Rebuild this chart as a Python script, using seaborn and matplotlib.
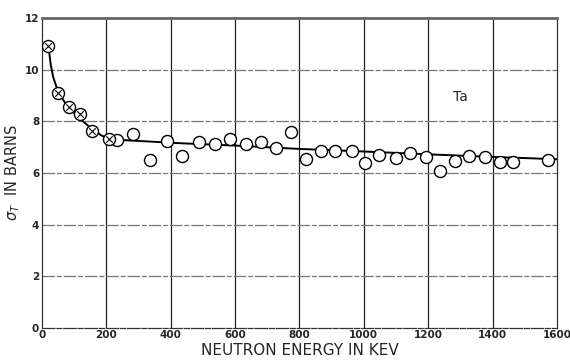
import matplotlib
matplotlib.use("Agg")
import matplotlib.pyplot as plt
import seaborn as sns
import pandas as pd

# Crossed-circle points (low energy)
cross_x = [20, 51, 85, 119, 155, 209]
cross_y = [10.93, 9.11, 8.54, 8.27, 7.64, 7.30]

# Open-circle points
open_x = [234, 284, 337, 388, 436, 489, 537, 585, 633, 680, 727, 774, 821, 867, 909,
          962, 1005, 1048, 1099, 1145, 1192, 1238, 1284, 1328, 1376, 1424, 1464, 1573]
open_y = [7.27, 7.51, 6.49, 7.25, 6.66, 7.19, 7.11, 7.30, 7.11, 7.21, 6.98, 7.60, 6.53, 6.86, 6.86,
          6.86, 6.40, 6.69, 6.57, 6.78, 6.60, 6.09, 6.46, 6.66, 6.60, 6.41, 6.43, 6.50]

# Fitted curve
curve_x = [20, 27, 35, 50, 70, 90, 120, 155, 185, 210, 240, 430, 600, 800, 1000, 1200, 1400, 1600]
curve_y = [10.93, 10.2, 9.7, 9.15, 8.75, 8.45, 8.08, 7.70, 7.45, 7.32, 7.28, 7.15, 7.06, 6.93, 6.83, 6.72, 6.62, 6.53]

x_ticks = [0, 200, 400, 600, 800, 1000, 1200, 1400, 1600]
y_ticks = [0, 2, 4, 6, 8, 10, 12]
x_tick_labels = ["0", "200", "400", "600", "800", "1000", "1200", "1400", "1600"]
y_tick_labels = ["0", "2", "4", "6", "8", "10", "12"]

sns.set_theme(style="white")
plt.rcParams['font.family'] = ['DejaVu Sans']

fig = plt.figure(figsize=(5.7, 3.62), dpi=100)
ax = fig.add_axes([0.0737, 0.0947, 0.9033, 0.8553])

# grid
for xv in x_ticks[1:-1]:
    ax.axvline(xv, color="#222222", lw=0.9, zorder=1)
for yv in y_ticks[1:-1]:
    ax.axhline(yv, color="#777777", lw=0.9, ls=(0, (10, 1.5, 4, 1.5)), zorder=1)

curve_df = pd.DataFrame({"x": curve_x, "y": curve_y})
sns.lineplot(data=curve_df, x="x", y="y", ax=ax, color="black", lw=1.4, zorder=2,
             sort=False, estimator=None)

open_df = pd.DataFrame({"x": open_x, "y": open_y})
cross_df = pd.DataFrame({"x": cross_x, "y": cross_y})
sns.scatterplot(data=open_df, x="x", y="y", ax=ax, marker="o", s=75,
                facecolor="white", edgecolor="black", linewidth=1.0, zorder=3)
sns.scatterplot(data=cross_df, x="x", y="y", ax=ax, marker="o", s=75,
                facecolor="white", edgecolor="black", linewidth=1.0, zorder=3)
sns.scatterplot(data=cross_df, x="x", y="y", ax=ax, marker="x", s=22,
                color="black", linewidth=0.8, zorder=4)

ax.set_xlim(0, 1600)
ax.set_ylim(0, 12)
ax.set_xticks(x_ticks)
ax.set_xticklabels(x_tick_labels)
ax.set_yticks(y_ticks)
ax.set_yticklabels(y_tick_labels)
ax.tick_params(axis="both", length=0, labelsize=7.5, pad=2)
for lab in ax.get_xticklabels() + ax.get_yticklabels():
    lab.set_fontweight("bold")

for side in ["left", "right", "bottom"]:
    ax.spines[side].set_color("#333333")
    ax.spines[side].set_linewidth(0.9)
ax.spines["bottom"].set_linestyle((0, (10, 1.5, 4, 1.5)))
ax.spines["top"].set_color("#666666")
ax.spines["top"].set_linewidth(2.0)

ax.set_xlabel("NEUTRON ENERGY IN KEV", fontsize=11, labelpad=2)
ax.set_ylabel(r"$\sigma_T$  IN BARNS", fontsize=10.5)
ax.yaxis.set_label_coords(-0.038, 0.5)

ax.text(1300, 8.95, "Ta", fontsize=10, ha="center", va="center")

fig.savefig("out.png", dpi=100)
